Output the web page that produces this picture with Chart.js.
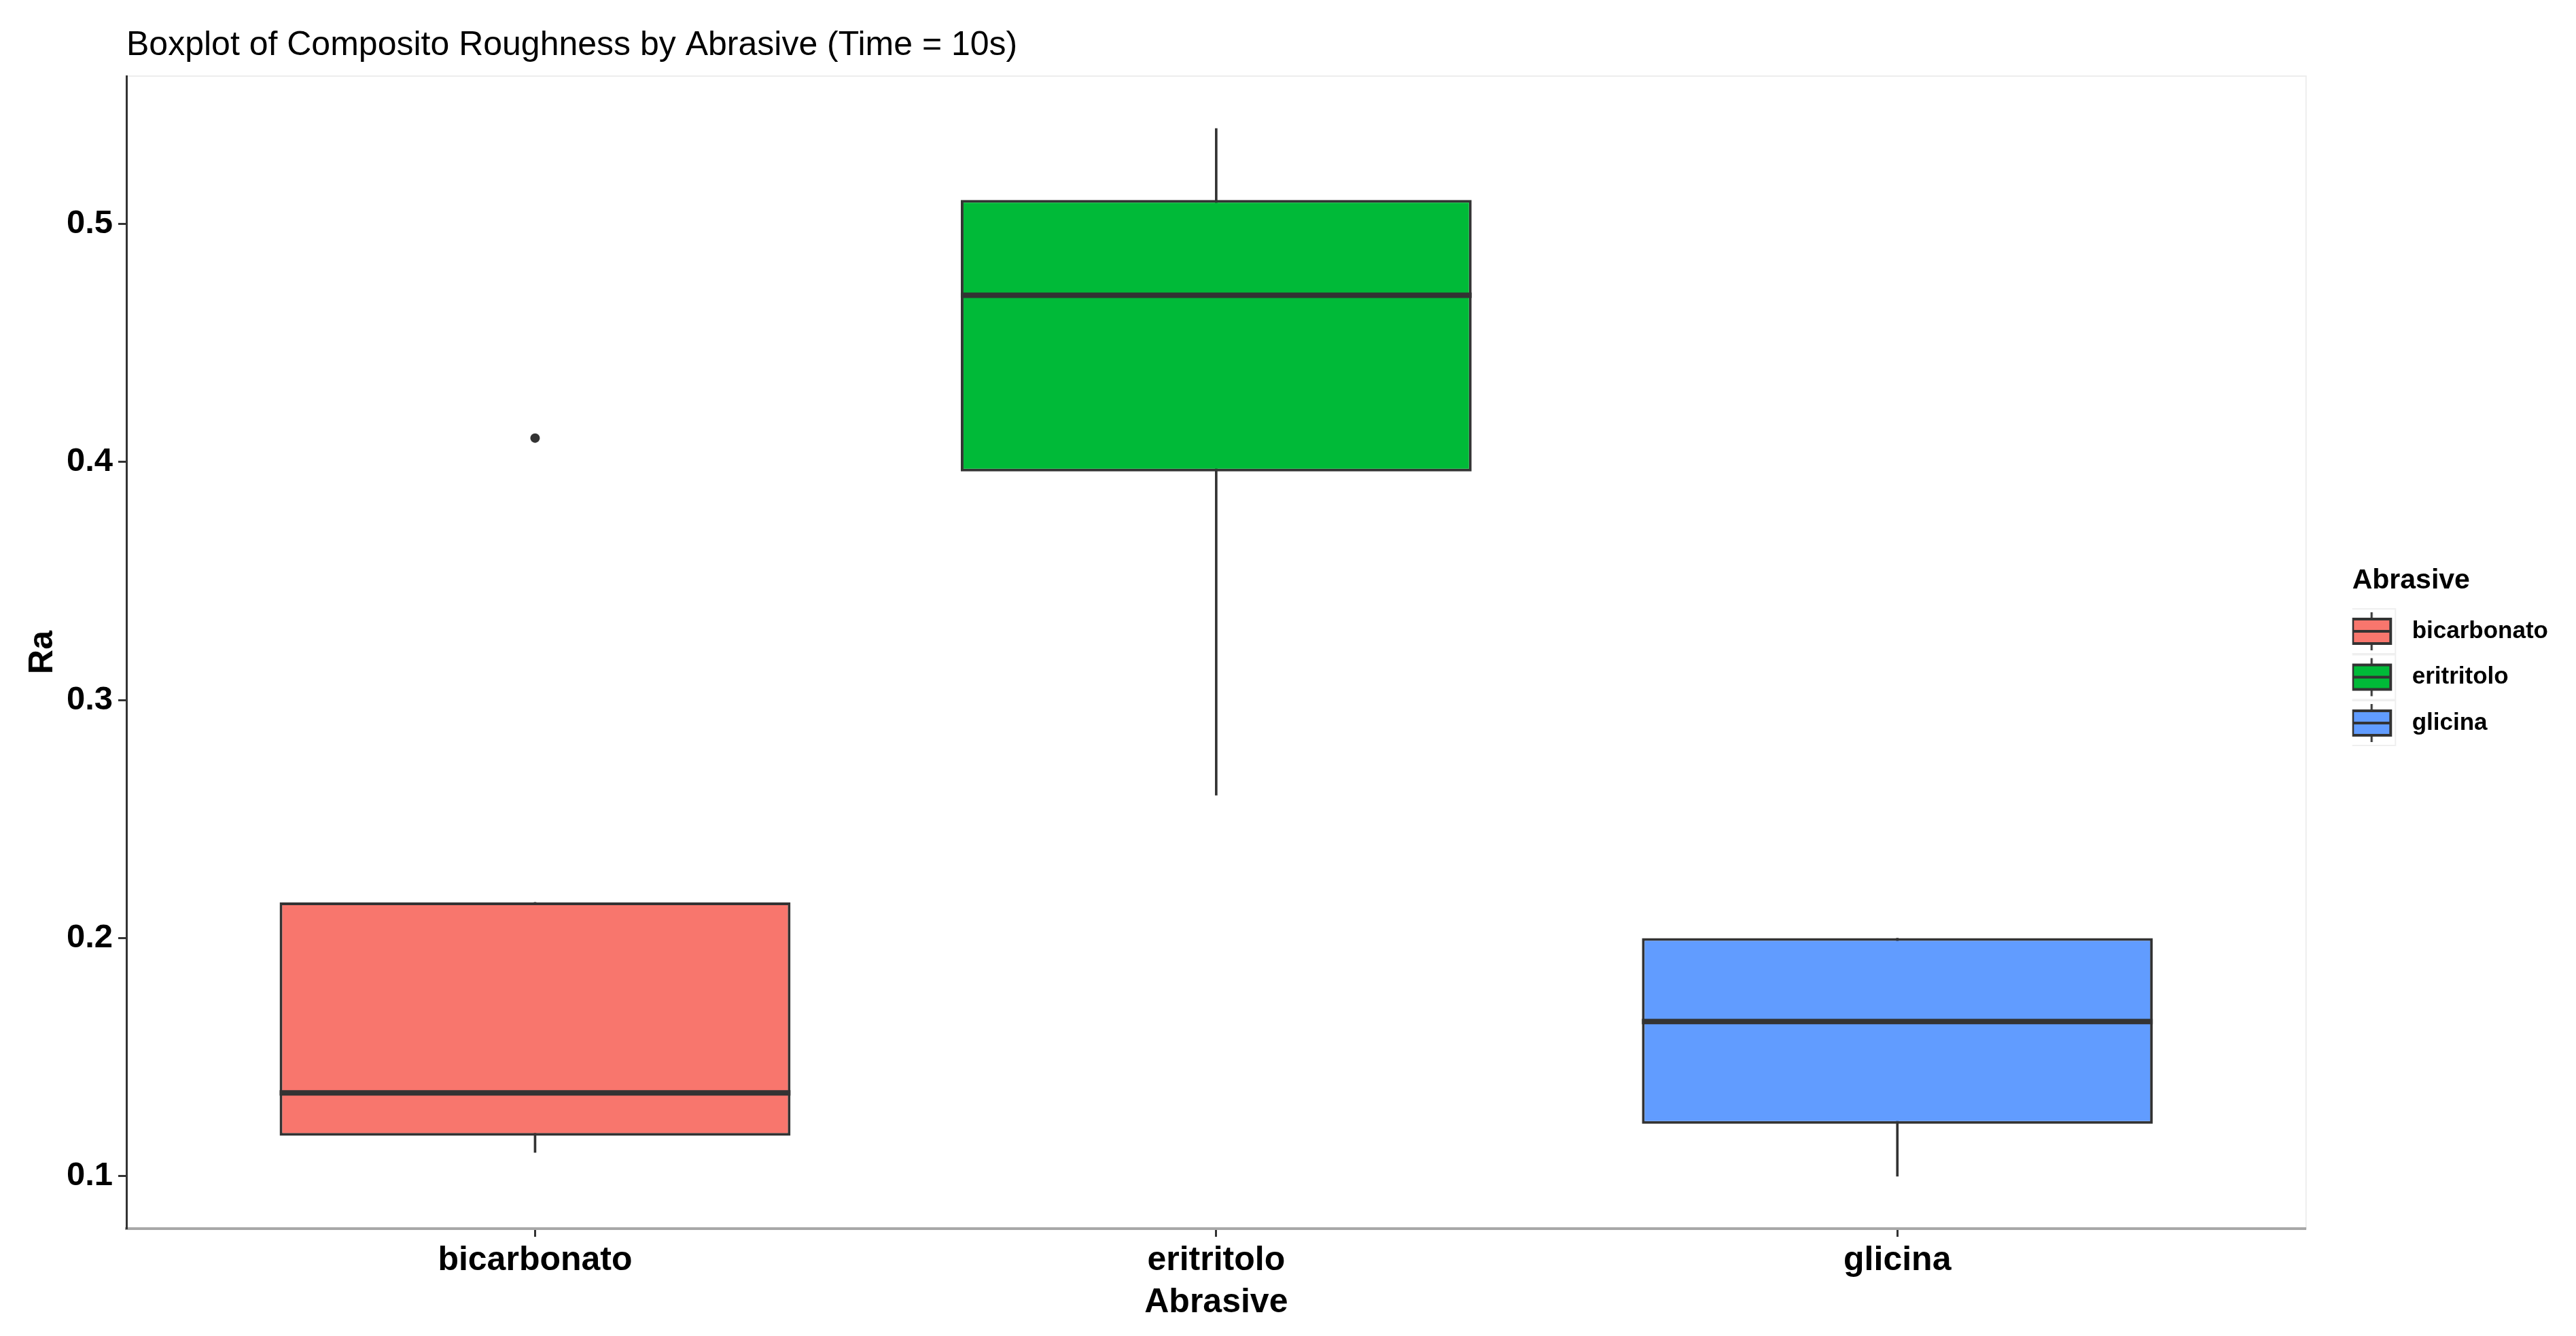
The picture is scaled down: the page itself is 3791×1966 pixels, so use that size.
<!DOCTYPE html>
<html>
<head>
<meta charset="utf-8">
<title>Boxplot of Composito Roughness by Abrasive</title>
<script src="https://cdn.jsdelivr.net/npm/chart.js@4.4.1/dist/chart.umd.min.js"></script>
<style>
    html, body { margin: 0; padding: 0; background: #fff; }
    #wrap { width: 3791px; height: 1966px; }
</style>
</head>
<body>
<div id="wrap"><canvas id="boxChart" width="3791" height="1966"></canvas></div>
<script>
// Datos del boxplot (Ra, Time = 10s)
const abrasives = ['bicarbonato', 'eritritolo', 'glicina'];
const positions = [1, 2, 3];
const whiskerLow = [0.11, 0.26, 0.10];
const q1 = [0.117, 0.396, 0.122];
const medians = [0.135, 0.47, 0.165];
const q3 = [0.215, 0.51, 0.20];
const whiskerHigh = [0.215, 0.54, 0.20];
const outlierGroup = [1];
const outlierValues = [0.41];
const yTicks = [0.1, 0.2, 0.3, 0.4, 0.5];

const chartTitle = 'Boxplot of Composito Roughness by Abrasive (Time = 10s)';
const colors = ['#F8766D', '#00BA38', '#619CFF'];
const dark = '#333333';

Chart.defaults.font.family = "'Liberation Sans', Arial, sans-serif";

// rango estilo ggplot (expansion 5%)
const lo = Math.min(...whiskerLow);
const hi = Math.max(...whiskerHigh, ...outlierValues);
const yMin = lo - 0.05 * (hi - lo);
const yMax = hi + 0.05 * (hi - lo);

// Iconos de la leyenda (mini boxplot)
function makeKey(fill) {
    const c = document.createElement('canvas');
    c.width = 120;
    c.height = 68;
    const g = c.getContext('2d');
    const cx = 37, cy = 34;
    g.strokeStyle = '#efefef';
    g.lineWidth = 2;
    g.strokeRect(cx - 35, 1, 70, 66);
    g.strokeStyle = dark;
    g.lineWidth = 3;
    g.beginPath();
    g.moveTo(cx, cy - 28);
    g.lineTo(cx, cy + 28);
    g.stroke();
    g.fillStyle = fill;
    g.fillRect(cx - 28, cy - 18, 56, 36);
    g.lineWidth = 4;
    g.strokeRect(cx - 28, cy - 18, 56, 36);
    g.beginPath();
    g.moveTo(cx - 28, cy);
    g.lineTo(cx + 28, cy);
    g.stroke();
    return c;
}
const keyImages = colors.map(makeKey);

// Mediana, borde del panel y titulo
const boxExtras = {
    id: 'boxExtras',
    beforeDraw(chart) {
        const {ctx, chartArea: a} = chart;
        ctx.save();
        ctx.fillStyle = '#fff';
        ctx.fillRect(0, 0, chart.width, chart.height);
        ctx.strokeStyle = '#ededed';
        ctx.lineWidth = 2;
        ctx.strokeRect(a.left, a.top, a.right - a.left, a.bottom - a.top);
        ctx.restore();
    },
    afterDatasetsDraw(chart) {
        const ctx = chart.ctx;
        const y = chart.scales.y;
        const meta = chart.getDatasetMeta(0);
        ctx.save();
        ctx.strokeStyle = dark;
        ctx.lineWidth = 8;
        meta.data.forEach((bar, i) => {
            const py = y.getPixelForValue(medians[i]);
            ctx.beginPath();
            ctx.moveTo(bar.x - bar.width / 2, py);
            ctx.lineTo(bar.x + bar.width / 2, py);
            ctx.stroke();
        });
        ctx.restore();
    },
    afterDraw(chart) {
        const ctx = chart.ctx;
        ctx.save();
        ctx.font = "50px 'Liberation Sans', Arial, sans-serif";
        ctx.fillStyle = '#000';
        ctx.textBaseline = 'alphabetic';
        ctx.fillText(chartTitle, chart.chartArea.left, 81);
        ctx.restore();
    }
};

new Chart(document.getElementById('boxChart'), {
    type: 'bar',
    data: {
        datasets: [
            {
                label: 'caja',
                data: positions.map((x, i) => ({x: x, y: [q1[i], q3[i]]})),
                backgroundColor: colors,
                borderColor: dark,
                borderWidth: 4,
                borderSkipped: false,
                grouped: false,
                barPercentage: 0.75,
                categoryPercentage: 1,
                xAxisID: 'x',
                yAxisID: 'y',
                order: 1
            },
            {
                label: 'bigotes',
                data: positions.map((x, i) => ({x: x, y: [whiskerLow[i], whiskerHigh[i]]})),
                backgroundColor: dark,
                borderWidth: 0,
                barThickness: 3,
                grouped: false,
                xAxisID: 'x',
                yAxisID: 'y',
                order: 2
            },
            {
                type: 'scatter',
                label: 'atipicos',
                data: outlierGroup.map((x, i) => ({x: x, y: outlierValues[i]})),
                pointRadius: 7,
                backgroundColor: dark,
                borderWidth: 0,
                xAxisID: 'x',
                yAxisID: 'y',
                order: 0
            }
        ]
    },
    options: {
        responsive: false,
        animation: false,
        layout: { padding: { top: 112, right: 31, bottom: 0, left: 0 } },
        scales: {
            x: {
                type: 'linear',
                min: 0.4,
                max: 3.6,
                offset: false,
                afterBuildTicks: axis => { axis.ticks = positions.map(v => ({value: v})); },
                ticks: {
                    callback: (v, i) => abrasives[i],
                    autoSkip: false,
                    maxRotation: 0,
                    color: '#000',
                    padding: 5,
                    font: { size: 50, weight: 'bold', lineHeight: 1.2 }
                },
                grid: { offset: false, drawOnChartArea: false, drawTicks: true, tickLength: 12, tickWidth: 3, tickColor: dark },
                border: { color: '#a8a8a8', width: 4 },
                title: {
                    display: true,
                    text: 'Abrasive',
                    color: '#000',
                    font: { size: 50, weight: 'bold', lineHeight: 1.2 },
                    padding: { top: 0, bottom: 19 }
                },
                afterFit: s => { s.height = 158; }
            },
            y: {
                type: 'linear',
                min: yMin,
                max: yMax,
                afterBuildTicks: axis => { axis.ticks = yTicks.map(v => ({value: v})); },
                ticks: {
                    callback: v => v.toFixed(1),
                    color: '#000',
                    padding: 8,
                    font: { size: 49, weight: 'bold' }
                },
                grid: { drawOnChartArea: false, drawTicks: true, tickLength: 12, tickWidth: 3, tickColor: dark },
                border: { color: dark, width: 3 },
                title: {
                    display: true,
                    text: 'Ra',
                    color: '#000',
                    font: { size: 50, weight: 'bold', lineHeight: 1.2 },
                    padding: { top: 33, bottom: 0 }
                },
                afterFit: s => { s.width = 186; }
            },
            yPad: {
                type: 'linear',
                position: 'right',
                grid: { display: false },
                border: { display: false },
                ticks: { display: false },
                afterFit: s => { s.width = 68; }
            }
        },
        plugins: {
            legend: {
                position: 'right',
                align: 'start',
                title: {
                    display: true,
                    text: 'Abrasive',
                    position: 'start',
                    color: '#000',
                    font: { size: 41, weight: 'bold', lineHeight: 1 },
                    padding: { top: 722.5, bottom: 3.5 }
                },
                labels: {
                    usePointStyle: true,
                    pointStyleWidth: 38,
                    padding: 32.5,
                    color: '#000',
                    font: { size: 35, weight: 'bold' },
                    generateLabels: () => abrasives.map((name, i) => ({
                        text: name,
                        pointStyle: keyImages[i],
                        fillStyle: colors[i],
                        strokeStyle: dark,
                        lineWidth: 0,
                        hidden: false,
                        datasetIndex: 0,
                        index: i
                    }))
                }
            },
            tooltip: { enabled: false },
            title: { display: false }
        }
    },
    plugins: [boxExtras]
});
</script>
</body>
</html>
